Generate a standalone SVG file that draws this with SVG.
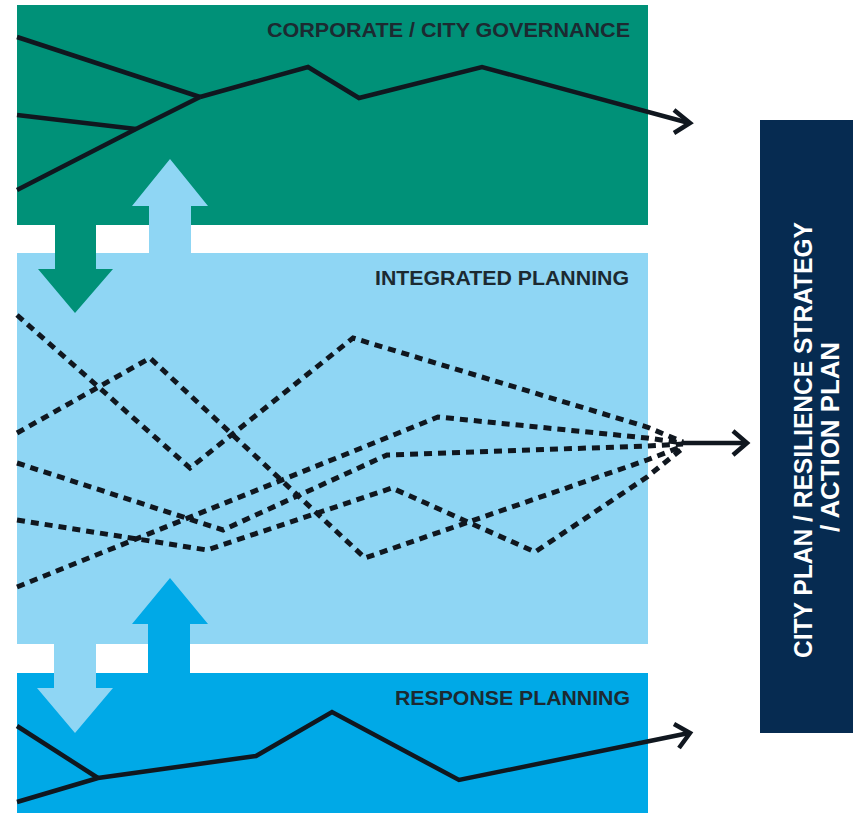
<svg xmlns="http://www.w3.org/2000/svg" width="853" height="813" viewBox="0 0 853 813">
  <style>
    .band-label { font-family: "Liberation Sans", Arial, sans-serif; font-weight: bold; font-size: 20px; fill: #1c2a31; }
    .out-label { font-family: "Liberation Sans", Arial, sans-serif; font-weight: bold; font-size: 26px; fill: #ffffff; }
    .solid { fill: none; stroke: #10171f; stroke-width: 4.5; stroke-linejoin: miter; stroke-linecap: butt; }
    .dotted { fill: none; stroke: #10171f; stroke-width: 5; stroke-dasharray: 8 6; stroke-linejoin: miter; }
    .head { fill: none; stroke: #10171f; stroke-width: 4.5; stroke-linejoin: miter; stroke-linecap: butt; }
    .green { fill: #009178; }
    .light { fill: #8fd6f4; }
    .blue { fill: #00a9e7; }
    .navy { fill: #062b51; }
  </style>
  <rect width="853" height="813" fill="#ffffff"/>

  <g id="corporate-governance">
    <rect class="green" x="17" y="5" width="631" height="220"/>
    <text class="band-label" x="630" y="37" text-anchor="end" textLength="363" lengthAdjust="spacingAndGlyphs">CORPORATE / CITY GOVERNANCE</text>
  </g>

  <g id="integrated-planning">
    <rect class="light" x="17" y="253" width="631" height="391"/>
    <text class="band-label" x="629" y="285" text-anchor="end" textLength="254" lengthAdjust="spacingAndGlyphs">INTEGRATED PLANNING</text>
  </g>

  <g id="response-planning">
    <rect class="blue" x="17" y="673" width="631" height="140"/>
    <text class="band-label" x="630" y="705" text-anchor="end" textLength="235" lengthAdjust="spacingAndGlyphs">RESPONSE PLANNING</text>
  </g>

  <g id="city-plan">
    <rect class="navy" x="760" y="120" width="93" height="613"/>
    <text class="out-label" transform="translate(812,440) rotate(-90)" text-anchor="middle" textLength="436" lengthAdjust="spacingAndGlyphs">CITY PLAN / RESILIENCE STRATEGY</text>
    <text class="out-label" transform="translate(839,437) rotate(-90)" text-anchor="middle" textLength="190" lengthAdjust="spacingAndGlyphs">/ ACTION PLAN</text>
  </g>

  <g id="connectors">
    <!-- block arrows between bands -->
    <polygon class="green" points="55,224 96,224 96,269 113,269 75,313 38,269 55,269"/>
    <polygon class="light" points="149,254 191,254 191,206 208,206 170,159 132,206 149,206"/>
    <polygon class="light" points="54,643 96,643 96,688 113,688 75,733 37,688 54,688"/>
    <polygon class="blue" points="148,674 190,674 190,624 208,624 170,578 132,624 148,624"/>

    <!-- governance lines -->
    <polyline class="solid" points="17,37 200,97"/>
    <polyline class="solid" points="17,115 136,129"/>
    <polyline class="solid" points="17,190 136,129 200,97"/>
    <polyline class="solid" points="200,97 308,67 359,98 482,67 689,123"/>
    <polyline class="head" points="674,110 690,123 674,133"/>

    <!-- integrated planning dotted lines -->
    <polyline class="dotted" points="17,315 190,468 353,338 647,427 683,442"/>
    <polyline class="dotted" points="17,433 150,358 365,558 647,460 683,446"/>
    <polyline class="dotted" points="17,463 223,530 387,455 647,446 683,444"/>
    <polyline class="dotted" points="17,520 207,550 392,488 535,552 647,477 683,448"/>
    <polyline class="dotted" points="17,587 438,417 647,438 683,443"/>
    <line class="solid" x1="683" y1="443" x2="745" y2="443"/>
    <polyline class="head" points="733,431 747,443 733,455"/>

    <!-- response lines -->
    <polyline class="solid" points="17,726 98,778"/>
    <polyline class="solid" points="17,802 98,778 256,756 332,712 459,780 689,733"/>
    <polyline class="head" points="674,724 690,733 679,748"/>
  </g>
</svg>
